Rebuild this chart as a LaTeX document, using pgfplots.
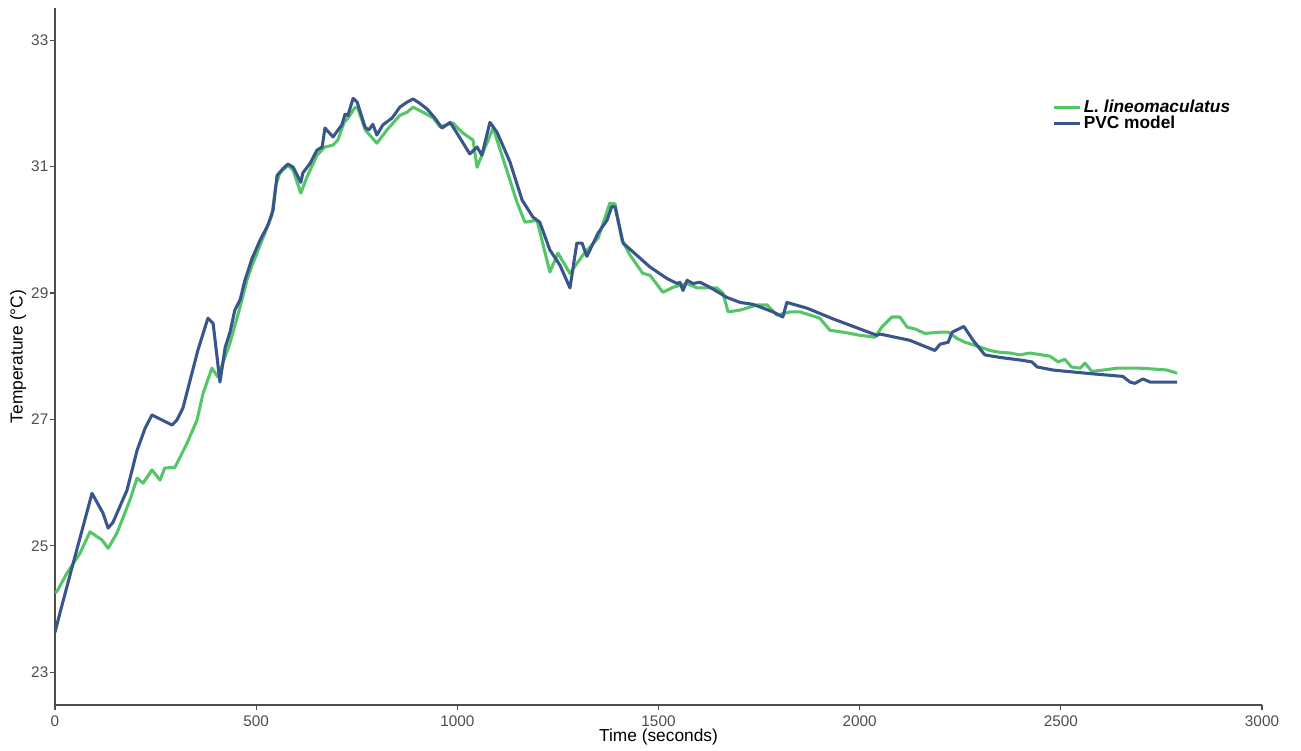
\documentclass[border=0pt]{standalone}
\usepackage{pgfplots}
\pgfplotsset{compat=1.18}
\usepackage{fontspec}
\setmainfont{Liberation Sans}
\definecolor{vgreen}{HTML}{55C667}
\definecolor{vblue}{HTML}{39568C}
\definecolor{tickgray}{HTML}{4D4D4D}
\begin{document}
\begin{tikzpicture}[x=0.75pt,y=0.75pt]
\begin{axis}[
  name=ax,
  scale only axis,
  width=905.25pt, height=522.75pt,
  xmin=0, xmax=3000, ymin=22.48, ymax=33.51,
  axis lines=left,
  axis line style={-, color=tickgray, line width=0.8pt},
  xtick={0,500,1000,1500,2000,2500,3000},
  ytick={23,25,27,29,31,33},
  tick align=outside,
  major tick length=3.5pt,
  tick style={color=tickgray, line width=0.8pt},
  /pgf/number format/assume math mode=true,
  /pgf/number format/1000 sep={},
  tick label style={font=\fontsize{11.5}{13}\selectfont, color=tickgray},
  xticklabel style={yshift=-1pt},
  yticklabel style={xshift=2pt},
  xlabel={Time (seconds)},
  ylabel={Temperature (°C)},
  label style={font=\fontsize{13}{15}\selectfont},
  xlabel style={at={(axis description cs:0.5,-0.046)}, anchor=center},
  ylabel style={at={(axis description cs:-0.0305,0.5)}, anchor=center, rotate=0},
  legend style={draw=none, fill=none, at={(axis description cs:0.823,0.876)}, anchor=north west,
    font=\fontsize{13}{14}\selectfont\bfseries, row sep=-3pt},
  legend cell align=left,
  legend image code/.code={\draw[#1, line width=2.4pt] (0pt,0pt) -- (15pt,0pt); \path (15pt,0pt) -- (19pt,0pt);},
]
\addplot[vgreen, line width=2.3pt, line join=round] coordinates {
(0,24.25) (7,24.30) (30,24.57) (62,24.88) (87,25.22) (117,25.09) (132,24.96) (154,25.20)
(186,25.72) (204,26.07) (219,25.99) (241,26.20) (261,26.04) (273,26.23) (298,26.24)
(328,26.62) (353,26.99) (368,27.41) (390,27.81) (405,27.67) (435,28.21) (460,28.78)
(477,29.20) (490,29.44) (515,29.84) (539,30.23) (549,30.71) (559,30.90) (579,31.02)
(592,30.94) (611,30.58) (626,30.83) (651,31.18) (671,31.31) (691,31.34) (703,31.42)
(718,31.69) (733,31.81) (746,31.94) (753,31.92) (771,31.58) (800,31.37) (825,31.58)
(857,31.81) (875,31.86) (890,31.94) (915,31.86) (940,31.77) (957,31.63) (989,31.69)
(1012,31.54) (1039,31.42) (1049,30.99) (1064,31.23) (1089,31.61) (1123,30.94)
(1148,30.44) (1168,30.12) (1198,30.15) (1230,29.33) (1250,29.63) (1280,29.31)
(1312,29.60) (1350,29.87) (1379,30.42) (1392,30.41) (1409,29.84) (1429,29.60)
(1461,29.31) (1479,29.28) (1511,29.01) (1536,29.09) (1571,29.15) (1596,29.08)
(1645,29.08) (1660,29.00) (1673,28.70) (1703,28.73) (1745,28.81) (1770,28.81)
(1794,28.65) (1827,28.70) (1852,28.70) (1877,28.65) (1901,28.60) (1926,28.41)
(1959,28.38) (1976,28.36) (2001,28.33) (2038,28.30) (2055,28.46) (2080,28.62)
(2100,28.62) (2118,28.46) (2138,28.43) (2162,28.36) (2200,28.38) (2220,28.38)
(2242,28.28) (2262,28.22) (2287,28.17) (2324,28.09) (2349,28.06) (2374,28.05)
(2398,28.02) (2423,28.05) (2473,28.00) (2493,27.91) (2510,27.95) (2526,27.83)
(2548,27.81) (2560,27.89) (2577,27.76) (2605,27.78) (2639,27.81) (2697,27.81)
(2746,27.79) (2764,27.78) (2789,27.73)
};
\addlegendentry{\textit{L. lineomaculatus}}
\addplot[vblue, line width=2.3pt, line join=round] coordinates {
(0,23.63) (12,23.93) (45,24.72) (92,25.83) (119,25.52) (132,25.28) (144,25.37)
(179,25.88) (204,26.51) (224,26.86) (241,27.07) (291,26.91) (303,26.99) (318,27.18)
(355,28.09) (380,28.60) (393,28.52) (410,27.59) (423,28.14) (435,28.38) (447,28.73)
(460,28.89) (472,29.20) (490,29.55) (510,29.84) (529,30.07) (542,30.31) (552,30.86)
(567,30.97) (579,31.04) (592,30.99) (611,30.75) (616,30.90) (634,31.05) (651,31.26)
(664,31.31) (671,31.61) (691,31.47) (713,31.66) (721,31.83) (728,31.81) (741,32.08)
(751,32.02) (771,31.62) (780,31.58) (790,31.67) (800,31.50) (815,31.66) (838,31.77)
(857,31.94) (875,32.02) (890,32.07) (907,32.00) (925,31.91) (944,31.77) (962,31.61)
(982,31.70) (999,31.53) (1031,31.20) (1049,31.31) (1061,31.18) (1081,31.70)
(1099,31.54) (1131,31.07) (1161,30.47) (1188,30.20) (1205,30.12) (1230,29.68)
(1255,29.44) (1280,29.08) (1297,29.79) (1310,29.79) (1322,29.58) (1350,29.95)
(1372,30.15) (1384,30.37) (1392,30.36) (1412,29.79) (1479,29.41) (1521,29.23)
(1546,29.15) (1553,29.17) (1561,29.04) (1571,29.20) (1586,29.15) (1603,29.17)
(1628,29.09) (1670,28.93) (1703,28.85) (1735,28.82) (1785,28.70) (1809,28.62)
(1819,28.85) (1869,28.76) (1934,28.59) (2043,28.33) (2051,28.35) (2125,28.25)
(2187,28.09) (2200,28.19) (2220,28.22) (2230,28.38) (2259,28.47) (2282,28.25)
(2311,28.02) (2349,27.98) (2398,27.94) (2428,27.91) (2441,27.83) (2481,27.78)
(2530,27.75) (2580,27.72) (2654,27.68) (2672,27.59) (2684,27.57) (2704,27.64)
(2722,27.59) (2789,27.59)
};
\addlegendentry{PVC model}
\end{axis}
\path (ax.south west) ++(-55,-46) coordinate (bl);
\path (ax.north east) ++(39,8) coordinate (tr);
\path (bl) rectangle (tr);
\end{tikzpicture}
\end{document}
